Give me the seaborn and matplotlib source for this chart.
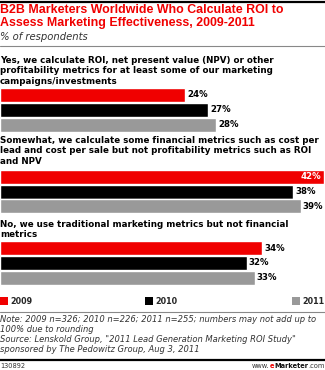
import matplotlib
matplotlib.use("Agg")
import matplotlib.pyplot as plt
import seaborn as sns
import pandas as pd
from matplotlib.lines import Line2D
from matplotlib.patches import Rectangle

sns.set_theme(style="white")
plt.rcParams['font.family'] = ['DejaVu Sans']

categories = [
    "Yes, we calculate ROI, net present value (NPV) or other\nprofitability metrics for at least some of our marketing\ncampaigns/investments",
    "Somewhat, we calculate some financial metrics such as cost per\nlead and cost per sale but not profitability metrics such as ROI\nand NPV",
    "No, we use traditional marketing metrics but not financial\nmetrics",
]
years = ["2009", "2010", "2011"]
v2009 = [24, 42, 34]
v2010 = [27, 38, 32]
v2011 = [28, 39, 33]
colors = {"2009": "#f00000", "2010": "#000000", "2011": "#999999"}

W, H = 325, 370
fig = plt.figure(figsize=(W / 100, H / 100), dpi=100)

def fx(x):
    return x / W

def fy(y):
    return 1 - y / H

def hline(y, lw, color):
    fig.add_artist(Line2D([0, 1], [fy(y), fy(y)], transform=fig.transFigure,
                          color=color, lw=lw))

# top rule
hline(1.5, 1.6, "black")
fig.text(fx(0), fy(4), "B2B Marketers Worldwide Who Calculate ROI to\nAssess Marketing Effectiveness, 2009-2011",
         color="#f00000", fontsize=8.9, fontweight="bold", va="top", ha="left",
         linespacing=1.12, family="Liberation Sans")
fig.text(fx(0), fy(32.5), "% of respondents", color="#333333", fontsize=7.2,
         style="italic", va="top", ha="left")
hline(46, 0.8, "#888888")

vals = list(zip(v2009, v2010, v2011))
label_tops = [56, 136, 219.5]
bar_tops = [87.5, 169.3, 240.7]
bar_h = 44.5
xmax = W / (324 / 42)

for i, cat in enumerate(categories):
    fig.text(fx(0), fy(label_tops[i]), cat, fontsize=6.3, fontweight="bold",
             va="top", ha="left", linespacing=1.2, color="black")
    df = pd.DataFrame({"year": years, "value": list(vals[i])})
    ax = fig.add_axes([0, fy(bar_tops[i] + bar_h), 1, bar_h / H])
    sns.barplot(data=df, x="value", y="year", hue="year", palette=colors,
                orient="h", width=0.94, legend=False, ax=ax, saturation=1)
    ax.set_xlim(0, xmax)
    ax.set_ylim(2.5, -0.5)
    ax.axis("off")
    for j, v in enumerate(vals[i]):
        if v >= 41:
            ax.text(v - 0.3, j, f"{v}%", ha="right", va="center", color="white",
                    fontsize=6.2, fontweight="bold")
        else:
            ax.text(v + 0.25, j, f"{v}%", ha="left", va="center", color="black",
                    fontsize=6.2, fontweight="bold")

# legend
leg_x = [0, 145, 292]
for x, yr in zip(leg_x, years):
    fig.add_artist(Rectangle((fx(x), fy(305)), 8 / W, 8 / H, transform=fig.transFigure,
                             color=colors[yr], lw=0))
    fig.text(fx(x + 10.5), fy(301), yr, fontsize=5.8, fontweight="bold",
             va="center", ha="left")

hline(312, 0.8, "#888888")
fig.text(fx(0), fy(315.5),
         "Note: 2009 n=326; 2010 n=226; 2011 n=255; numbers may not add up to\n100% due to rounding\nSource: Lenskold Group, \"2011 Lead Generation Marketing ROI Study\"\nsponsored by The Pedowitz Group, Aug 3, 2011",
         fontsize=6.0, style="italic", color="#333333", va="top", ha="left", linespacing=1.1)
hline(359.5, 1.6, "black")
fig.text(fx(0), fy(365.5), "130892", fontsize=4.8, color="#333333", va="center", ha="left")

# www.eMarketer.com, built right-to-left
renderer = fig.canvas.get_renderer()
parts = [(".com", "#333333", "normal"), ("Marketer", "#111111", "bold"),
         ("e", "#f00000", "bold"), ("www.", "#333333", "normal")]
xr = 324.5
for s, c, w in parts:
    t = fig.text(fx(xr), fy(365.5), s, fontsize=4.8, color=c, fontweight=w,
                 va="center", ha="right")
    bb = t.get_window_extent(renderer=renderer)
    xr -= bb.width

fig.savefig("out.png", dpi=100)
